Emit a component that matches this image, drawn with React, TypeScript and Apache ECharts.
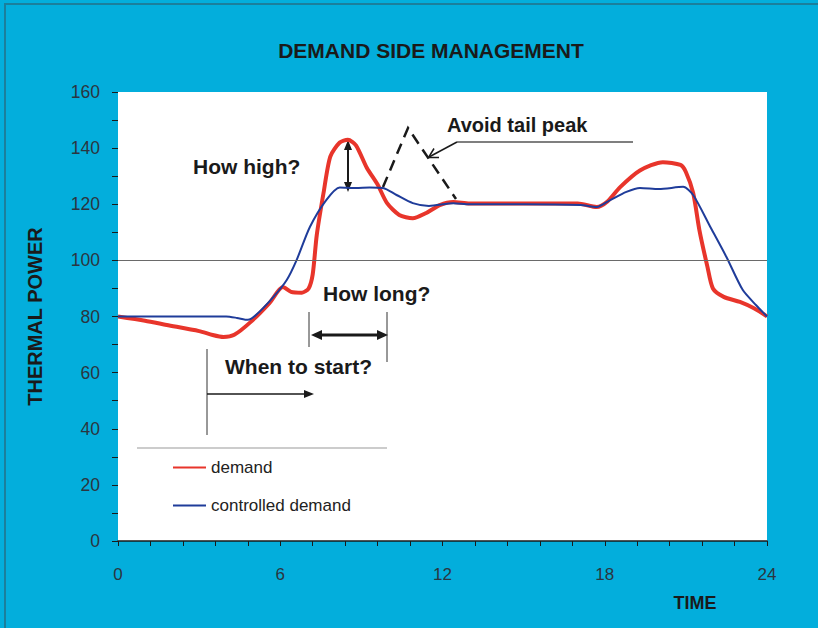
import React, { useEffect, useRef } from "react";
import * as echarts from "echarts";

const titleText = "DEMAND SIDE MANAGEMENT";
const yAxisName = "THERMAL POWER";
const xAxisName = "TIME";
const seriesNames = ["demand", "controlled demand"];

const demand: [number, number][] = [
  [0, 80], [1, 78.5], [1.8, 77], [3, 74.8], [3.5, 73.4], [3.9, 72.7], [4.3, 73.5],
  [4.9, 78], [5.6, 84.8], [6.1, 90.5], [6.4, 88.8], [6.8, 88.5], [7.05, 90],
  [7.2, 95], [7.35, 109], [7.6, 124], [7.85, 137], [8.2, 142], [8.5, 143],
  [8.8, 141], [9.2, 133], [9.6, 127], [9.95, 120.4], [10.4, 116.2], [10.9, 115],
  [11.4, 116.9], [11.9, 119.7], [12.4, 120.8], [13, 120.3], [15, 120.3],
  [17, 120.3], [17.7, 119], [18.1, 121], [18.56, 126], [19.3, 132], [20.15, 135],
  [20.8, 134], [21.0, 131.5], [21.27, 124], [21.5, 110.8], [21.8, 97.6],
  [22.0, 90], [22.4, 87], [23.0, 85.2], [23.5, 83], [24, 80],
];

const controlled: [number, number][] = [
  [0, 80], [1, 80], [2, 80], [3, 80], [4, 80], [4.4, 79.5], [4.8, 78.8],
  [5.1, 80.5], [5.75, 87], [6.24, 93], [6.6, 100], [7.1, 112], [7.7, 121.5],
  [8.2, 126], [8.8, 125.8], [9.3, 126], [9.8, 125.8], [10.3, 123.3],
  [10.9, 120.4], [11.5, 119.4], [12.4, 120.4], [13, 120], [15, 120],
  [17.1, 119.7], [17.7, 119], [18.2, 121.5], [18.8, 124.4], [19.3, 125.8],
  [20, 125.4], [20.9, 126.2], [21.27, 123.3], [21.9, 112], [22.5, 101.2],
  [23.1, 89.5], [23.6, 84], [24, 80],
];

const referenceLevel = 100;

const annotationTexts = {
  high: "How high?",
  tail: "Avoid tail peak",
  long: "How long?",
  start: "When to start?",
};

const FONT = "'Liberation Sans', Arial, Helvetica, sans-serif";

export default function App() {
  const ref = useRef<HTMLDivElement>(null);

  useEffect(() => {
    document.body.style.margin = "0";
    if (!ref.current) return;
    const chart = echarts.init(ref.current, undefined, { renderer: "svg" });

    const black = "#1a1a1a";
    const textStyle = (t: string, x: number, y: number, size = 21) => ({
      type: "text",
      x,
      y,
      style: {
        text: t,
        font: `bold ${size}px ${FONT}`,
        fill: "#1a1a1a",
        textAlign: "left",
        textVerticalAlign: "middle",
      },
    });
    const line = (x1: number, y1: number, x2: number, y2: number, w = 1, color = "#333") => ({
      type: "line",
      shape: { x1, y1, x2, y2 },
      style: { stroke: color, lineWidth: w },
    });
    const tri = (pts: number[][]) => ({
      type: "polygon",
      shape: { points: pts },
      style: { fill: black },
    });

    chart.setOption({
      animation: false,
      backgroundColor: "#03AEDC",
      title: {
        text: titleText,
        left: 426,
        top: 35,
        textAlign: "center",
        textStyle: { fontFamily: FONT, fontWeight: "bold", fontSize: 21, color: "#1a1a1a" },
      },
      grid: {
        left: 118,
        top: 92,
        width: 649,
        height: 449,
        show: true,
        backgroundColor: "#ffffff",
        borderWidth: 0,
        containLabel: false,
      },
      legend: {
        orient: "vertical",
        left: 167,
        top: 454,
        itemWidth: 33,
        itemHeight: 14,
        itemGap: 21,
        data: seriesNames,
        itemStyle: { opacity: 0, borderWidth: 0 },
        textStyle: { fontFamily: FONT, fontSize: 17, color: "#222" },
      },
      xAxis: {
        type: "value",
        min: 0,
        max: 24,
        interval: 6,
        axisLine: { show: true, lineStyle: { color: "#1a1a1a", width: 1.5 } },
        axisTick: { show: true, length: 5, lineStyle: { color: "#1a1a1a" } },
        minorTick: { show: true, splitNumber: 5, length: 5, lineStyle: { color: "#1a1a1a" } },
        splitLine: { show: false },
        axisLabel: { fontFamily: FONT, fontSize: 17, color: "#2b3540", margin: 25 },
      },
      yAxis: {
        type: "value",
        min: 0,
        max: 160,
        interval: 20,
        name: yAxisName,
        nameLocation: "middle",
        nameGap: 73,
        nameRotate: 90,
        nameTextStyle: { fontFamily: FONT, fontWeight: "bold", fontSize: 20, color: "#1a1a1a" },
        axisLine: { show: false },
        axisTick: { show: true, length: 6, lineStyle: { color: "#1a1a1a" } },
        minorTick: { show: true, splitNumber: 2, length: 6, lineStyle: { color: "#1a1a1a" } },
        splitLine: { show: false },
        axisLabel: { fontFamily: FONT, fontSize: 17.5, color: "#2b3540", margin: 18 },
      },
      series: [
        {
          name: seriesNames[0],
          type: "line",
          data: demand,
          smooth: 0.25,
          symbol: "none",
          showSymbol: false,
          z: 3,
          lineStyle: { color: "#E8352B", width: 4 },
          itemStyle: { color: "#E8352B" },
          markLine: {
            silent: true,
            symbol: "none",
            label: { show: false },
            lineStyle: { color: "#6a6a6a", width: 1, type: "solid" },
            data: [{ yAxis: referenceLevel }],
          },
        },
        {
          name: seriesNames[1],
          type: "line",
          data: controlled,
          smooth: 0.25,
          symbol: "none",
          showSymbol: false,
          z: 4,
          lineStyle: { color: "#1F3C9A", width: 2 },
          itemStyle: { color: "#1F3C9A" },
        },
      ],
      graphic: [
        // outer frame
        line(4, 4, 818, 4, 2, "#1b7f9c"),
        line(5, 4, 5, 628, 2, "#1b7f9c"),
        // x axis name
        {
          type: "text",
          x: 695,
          y: 603,
          style: {
            text: xAxisName,
            font: `bold 18px ${FONT}`,
            fill: "#1a1a1a",
            textAlign: "center",
            textVerticalAlign: "middle",
          },
        },
        // legend separator
        line(137, 448, 387, 448, 1, "#999"),
        // How high?
        textStyle(annotationTexts.high, 193, 166),
        line(348, 146, 348, 186, 2, black),
        tri([[348, 140], [344, 150], [352, 150]]),
        tri([[348, 192], [344, 182], [352, 182]]),
        // dashed tail peak
        {
          type: "polyline",
          shape: { points: [[383, 187], [408, 128], [456, 199]] },
          style: { stroke: black, lineWidth: 2.5, lineDash: [11, 7], fill: null },
        },
        // Avoid tail peak
        textStyle(annotationTexts.tail, 447, 125, 20),
        line(457, 142, 633, 142, 1.5, "#555"),
        line(457, 142, 429, 157, 1.5, black),
        {
          type: "polyline",
          shape: { points: [[439, 157.5], [428.5, 157.5], [434, 148.5]] },
          style: { stroke: black, lineWidth: 1.5, fill: null },
        },
        // How long?
        textStyle(annotationTexts.long, 323, 293),
        line(309, 312, 309, 347, 1, "#333"),
        line(387, 312, 387, 362, 1, "#333"),
        line(318, 335, 382, 335, 3, black),
        tri([[311, 335], [322, 330], [322, 340]]),
        tri([[388, 335], [377, 330], [377, 340]]),
        // When to start?
        textStyle(annotationTexts.start, 225, 366),
        line(207, 349, 207, 435, 1, "#333"),
        line(207, 394, 306, 394, 1.5, black),
        tri([[314, 394], [304, 390], [304, 398]]),
      ],
    });

    return () => chart.dispose();
  }, []);

  return (
    <div
      ref={ref}
      style={{ position: "absolute", left: 0, top: 0, width: 818, height: 628 }}
    />
  );
}
